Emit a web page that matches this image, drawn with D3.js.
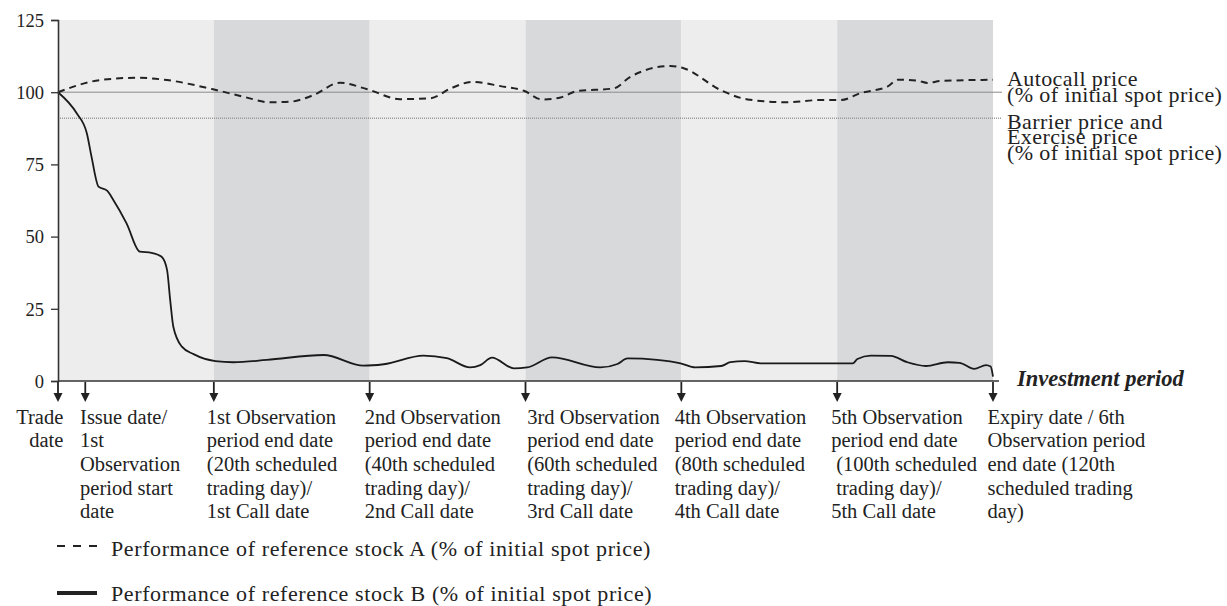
<!DOCTYPE html>
<html>
<head>
<meta charset="utf-8">
<script src="https://cdn.jsdelivr.net/npm/d3@7"></script>
</head>
<body style="margin:0;background:#fff">
<svg id="chart" width="1227" height="606" style="display:block"></svg>
<script>
// ---------- data ----------
const yTicks = [0, 25, 50, 75, 100, 125];
const autocallLevel = 100;
const barrierLevel = 91;

// x in scheduled trading days
const bandEdges = [0, 20, 40, 60, 80, 100, 120];

const stockADays = [0, 5.4, 10.1, 14, 19.9, 24, 27.2, 29.8, 32.8, 36.2, 39.7, 43.9, 47.8, 50.4, 53.2, 56.8, 59.8, 62.1, 64.5, 66.6, 71.3, 73.5, 78.6, 80.3, 85, 88.5, 93.6, 97.9, 100.5, 103, 106.5, 107.8, 110.3, 111.6, 113.3, 120];
const stockAValues = [100, 104.2, 105, 104.2, 101, 98.3, 96.5, 96.7, 99, 103.3, 101, 97.6, 97.9, 101.3, 103.6, 102.1, 100.5, 97.5, 98.2, 100.4, 101.3, 105.4, 109.1, 108.3, 100.8, 97.5, 96.5, 97.3, 97.3, 99.7, 102, 104.3, 104, 103.2, 103.9, 104.3];

const stockBDays = [0, 2.4, 3.7, 4.3, 5.2, 6.3, 7.1, 8.8, 10.5, 12, 13.3, 14, 14.4, 14.8, 15.9, 17.4, 20.2, 22.5, 26.8, 34.1, 39.2, 41.8, 46.9, 49.9, 52.9, 54.2, 55.7, 58.5, 60.2, 63.4, 69.6, 71.8, 73.1, 76.9, 79.9, 81.8, 85.1, 86.3, 88.1, 90.2, 102, 102.6, 104.3, 106.9, 109, 111.4, 114.2, 115.7, 117.6, 119.1, 119.7, 120];
const stockBValues = [100, 92.7, 85.8, 77.7, 67.3, 65.9, 62.7, 54.6, 44.8, 44.4, 43, 38.4, 28, 18.8, 11.9, 9.3, 6.9, 6.5, 7.3, 9, 5.3, 5.8, 8.8, 7.9, 4.7, 5.5, 8.1, 4.4, 4.7, 8.2, 4.7, 5.9, 7.8, 7.3, 6.1, 4.7, 5.2, 6.5, 6.9, 6.1, 6.1, 7.6, 8.8, 8.7, 6.5, 5.2, 6.5, 6.3, 4.2, 5.5, 5, 1.5];

const markerDays = [0, 3.5, 20, 40, 60, 80, 100, 120];
const markerLabels = [
  ["Trade", "date"],
  ["Issue date/", "1st", "Observation", "period start", "date"],
  ["1st Observation", "period end date", "(20th scheduled", "trading day)/", "1st Call date"],
  ["2nd Observation", "period end date", "(40th scheduled", "trading day)/", "2nd Call date"],
  ["3rd Observation", "period end date", "(60th scheduled", "trading day)/", "3rd Call date"],
  ["4th Observation", "period end date", "(80th scheduled", "trading day)/", "4th Call date"],
  ["5th Observation", "period end date", "\u00a0(100th scheduled", "\u00a0trading day)/", "5th Call date"],
  ["Expiry date / 6th", "Observation period", "end date (120th", "scheduled trading", "day)"]
];
const autocallLabel = ["Autocall price", "(% of initial spot price)"];
const barrierLabel = ["Barrier price and", "Exercise price", "(% of initial spot price)"];
const xAxisTitle = "Investment period";
const legendLabels = [
  "Performance of reference stock A (% of initial spot price)",
  "Performance of reference stock B (% of initial spot price)"
];

// ---------- layout ----------
const FONT = '"Liberation Serif"';
const svg = d3.select("#chart");
const x = d3.scaleLinear().domain([0, 120]).range([58, 993]);
const y = d3.scaleLinear().domain([0, 125]).range([381, 20]);
const labelDx = [5.3, -5.2, -7, -5, 1.7, -6.7, -6, -5.5];
const labelAnchor = ["end", "start", "start", "start", "start", "start", "start", "start"];

// bands
const bands = d3.range(bandEdges.length - 1).map(i => [bandEdges[i], bandEdges[i + 1]]);
svg.append("g").selectAll("rect").data(bands).join("rect")
  .attr("x", d => x(d[0]))
  .attr("y", y(125))
  .attr("width", d => x(d[1]) - x(d[0]))
  .attr("height", y(0) - y(125))
  .attr("fill", (d, i) => i % 2 === 0 ? "#ededed" : "#d8d9db");

// reference lines
svg.append("line")
  .attr("x1", x(0)).attr("x2", 1002)
  .attr("y1", y(autocallLevel)).attr("y2", y(autocallLevel))
  .attr("stroke", "#8a8a8a").attr("stroke-width", 1);
svg.append("line")
  .attr("x1", x(0)).attr("x2", 1002)
  .attr("y1", y(barrierLevel)).attr("y2", y(barrierLevel))
  .attr("stroke", "#9a9a9a").attr("stroke-width", 1.5)
  .attr("stroke-dasharray", "1,1");

// series
const line = d3.line().x(d => x(d[0])).y(d => y(d[1])).curve(d3.curveMonotoneX);
const aData = stockADays.map((d, i) => [d, stockAValues[i]]);
const bData = stockBDays.map((d, i) => [d, stockBValues[i]]);
svg.append("path").attr("d", line(aData))
  .attr("fill", "none").attr("stroke", "#222").attr("stroke-width", 2)
  .attr("stroke-dasharray", "7,5");
svg.append("path").attr("d", line(bData))
  .attr("fill", "none").attr("stroke", "#1a1a1a").attr("stroke-width", 1.8);

// y axis
const yAxis = d3.axisLeft(y).tickValues(yTicks).tickSize(7).tickPadding(7);
const gy = svg.append("g").attr("transform", `translate(${x(0)},0)`).call(yAxis);
gy.attr("font-family", null).attr("font-size", null);
gy.select(".domain").attr("stroke", "#333").attr("stroke-width", 1.6);
gy.selectAll(".tick line").attr("stroke", "#333").attr("stroke-width", 1.3);
gy.selectAll(".tick text")
  .style("font-family", FONT).style("font-size", "18.5px")
  .attr("fill", "#222").attr("dy", "0.34em");

// x axis line
svg.append("line")
  .attr("x1", x(0)).attr("x2", 999)
  .attr("y1", y(0)).attr("y2", y(0))
  .attr("stroke", "#333").attr("stroke-width", 1.6);

// arrows
const arrows = svg.append("g").selectAll("g").data(markerDays).join("g")
  .attr("transform", d => `translate(${x(d)},${y(0)})`);
arrows.append("line").attr("x1", 0).attr("x2", 0).attr("y1", 1).attr("y2", 14)
  .attr("stroke", "#222").attr("stroke-width", 1.8);
arrows.append("path").attr("d", "M-4.5,12L4.5,12L0,21Z").attr("fill", "#222");

// marker labels
const lbl = svg.append("g").selectAll("text").data(markerDays).join("text")
  .attr("x", (d, i) => x(d) + labelDx[i])
  .attr("y", 423.5)
  .attr("text-anchor", (d, i) => labelAnchor[i])
  .style("font-family", FONT).style("font-size", "20.5px")
  .attr("fill", "#222");
lbl.selectAll("tspan").data((d, i) => markerLabels[i].map(t => ({ t, i, d }))).join("tspan")
  .attr("x", o => x(o.d) + labelDx[o.i])
  .attr("dy", (o, j) => j === 0 ? 0 : 23.7)
  .text(o => o.t);

// x axis title
svg.append("text").attr("x", 1017).attr("y", 386)
  .style("font-family", FONT).style("font-size", "22.5px")
  .style("font-weight", "bold").style("font-style", "italic")
  .attr("fill", "#222").text(xAxisTitle);

// right labels
function rightLabel(lines, y0) {
  const t = svg.append("text").attr("x", 1007).attr("y", y0)
    .style("font-family", FONT).style("font-size", "22px")
    .style("letter-spacing", "0.4px").attr("fill", "#222");
  t.selectAll("tspan").data(lines).join("tspan")
    .attr("x", 1007).attr("dy", (d, j) => j === 0 ? 0 : 15.8).text(d => d);
}
rightLabel(autocallLabel, 86);
rightLabel(barrierLabel, 128.5);

// legend
const legend = svg.append("g");
legend.append("line").attr("x1", 57).attr("x2", 97).attr("y1", 546).attr("y2", 546)
  .attr("stroke", "#222").attr("stroke-width", 2.2).attr("stroke-dasharray", "8,8");
legend.append("line").attr("x1", 57).attr("x2", 97).attr("y1", 593).attr("y2", 593)
  .attr("stroke", "#222").attr("stroke-width", 4);
legend.selectAll("text.lg").data(legendLabels).join("text").attr("class", "lg")
  .attr("x", 111).attr("y", (d, i) => i === 0 ? 555.5 : 601)
  .style("font-family", FONT).style("font-size", "22px")
  .style("letter-spacing", "0.6px")
  .attr("fill", "#222").text(d => d);
</script>
</body>
</html>
